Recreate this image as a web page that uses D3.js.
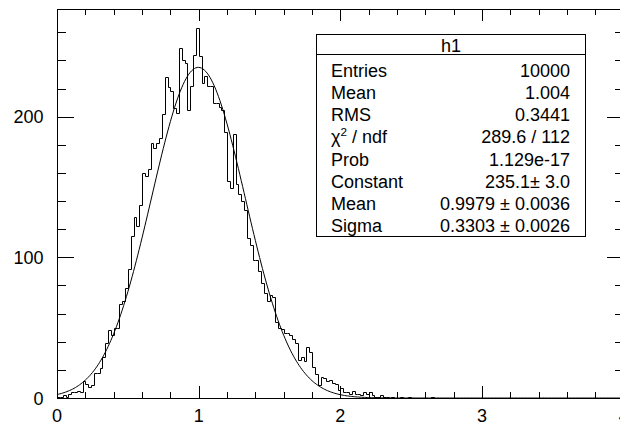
<!DOCTYPE html>
<html><head><meta charset="utf-8">
<script src="https://cdn.jsdelivr.net/npm/d3@7"></script>
<style>
body{margin:0;background:#fff}
svg{display:block}
text{font-family:"Liberation Sans",Arial,Helvetica,sans-serif;fill:#000}
</style>
</head><body>
<svg id="c" width="620" height="423"></svg>
<script>
// ---- data ----
const xRange = [0, 4];
const yRange = [0, 276.6];
const counts = [
  1,1,2,1,3,4,4,5,4,12,
  10,8,9,18,18,21,29,39,48,45,
  50,50,67,69,78,92,115,129,122,137,
  160,158,163,181,178,181,185,202,228,221,
  218,206,203,249,240,238,205,222,244,263,
  243,224,229,222,222,210,210,207,205,189,
  154,149,188,152,145,140,134,114,109,98,
  98,90,82,75,69,73,72,54,50,49,
  46,46,45,42,39,27,29,26,36,33,
  22,17,9,15,14,12,13,11,10,6,
  7,4,4,3,5,3,3,2,4,3,
  4,2,1,1,2,1,1,0,1,0,
  0,1,0,0,1,0,0,0,0,0,
  0,0,1,0,0,0,0,0,0,0,
  0,0,0,0,0,0,0,0,0,0,
  0,0,0,0,0,0,0,0,0,0,
  0,0,0,0,0,0,0,0,0,0,
  0,0,0,0,0,0,0,0,0,0,
  0,0,0,0,0,0,0,0,0,0,
  0,0,0,0,0,0,0,0,0,0
];
const xTickLabels = [0, 1, 2, 3, 4];
const yTickLabels = [0, 100, 200];
const fitConstant = 235.1, fitMean = 0.9979, fitSigma = 0.3303;
const statTitle = "h1";
const statNames = ["Entries","Mean","RMS","CHI2","Prob","Constant","Mean","Sigma"];
const statValues = ["10000","1.004","0.3441","289.6 / 112","1.129e-17","235.1\u00b1 3.0","0.9979 \u00b1 0.0036","0.3303 \u00b1 0.0026"];

// ---- layout ----
const L = 57, T = 9, R = 623.7, B = 398;
const svg = d3.select("#c");
const x = d3.scaleLinear().domain(xRange).range([L, R]);
const y = d3.scaleLinear().domain(yRange).range([B, T]);
const FS = 18;

svg.append("clipPath").attr("id","clip").append("rect")
  .attr("x", L).attr("y", T).attr("width", R - L).attr("height", B - T);

// histogram outline
const nb = counts.length;
const bw = (xRange[1] - xRange[0]) / nb;
const pts = [[x(xRange[0]), y(0)]];
counts.forEach((c, i) => {
  const lo = xRange[0] + i * bw, hi = lo + bw;
  pts.push([x(lo), y(c)], [x(hi), y(c)]);
});
pts.push([x(xRange[1]), y(0)]);
svg.append("path")
  .attr("clip-path","url(#clip)")
  .attr("d", d3.line()(pts.map(p => [Math.round(p[0]) + 0.5, Math.round(p[1]) + 0.5])))
  .attr("fill","none").attr("stroke","#000").attr("stroke-width",1);

// fit curve
const fx = d3.range(0, 401).map(i => xRange[0] + i * (xRange[1] - xRange[0]) / 400);
const gauss = v => fitConstant * Math.exp(-0.5 * Math.pow((v - fitMean) / fitSigma, 2));
svg.append("path")
  .attr("clip-path","url(#clip)")
  .attr("d", d3.line().x(v => x(v)).y(v => y(gauss(v)))(fx))
  .attr("fill","none").attr("stroke","#000").attr("stroke-width",1);

// frame
svg.append("rect").attr("x", L + 0.5).attr("y", T + 0.5)
  .attr("width", Math.round(R - L)).attr("height", B - T)
  .attr("fill","none").attr("stroke","#000").attr("stroke-width",1);

// ticks via axes
const xMaj = (B - T) * 0.03, xMin = xMaj / 2;
const yMaj = (R - L) * 0.03, yMin = yMaj / 2;
const xMinorVals = d3.range(0, 21).map(i => i * 0.2).filter(v => Math.abs(v - Math.round(v)) > 1e-6);
const yMinorVals = d3.range(0, 14).map(i => i * 20).filter(v => v % 100 !== 0 && v <= yRange[1]);

function tickAxis(gen, vals, size, tr) {
  const g = svg.append("g").attr("transform", tr)
    .call(gen.tickValues(vals).tickSize(size).tickFormat(""));
  g.select(".domain").remove();
  g.selectAll("line").attr("stroke","#000").attr("shape-rendering","crispEdges");
  return g;
}
// bottom (pointing up)
tickAxis(d3.axisTop(x), xTickLabels, xMaj, `translate(0,${B})`);
tickAxis(d3.axisTop(x), xMinorVals, xMin, `translate(0,${B})`);
// top (pointing down)
tickAxis(d3.axisBottom(x), xTickLabels, xMaj, `translate(0,${T})`);
tickAxis(d3.axisBottom(x), xMinorVals, xMin, `translate(0,${T})`);
// left (pointing right)
tickAxis(d3.axisRight(y), yTickLabels, yMaj, `translate(${L},0)`);
tickAxis(d3.axisRight(y), yMinorVals, yMin, `translate(${L},0)`);
// right (pointing left)
tickAxis(d3.axisLeft(y), yTickLabels, yMaj, `translate(${R},0)`);
tickAxis(d3.axisLeft(y), yMinorVals, yMin, `translate(${R},0)`);

// labels
svg.selectAll(".xl").data(xTickLabels).enter().append("text")
  .attr("x", d => x(d)).attr("y", 421.5).attr("text-anchor","middle")
  .attr("font-size", FS).text(d => d);
svg.selectAll(".yl").data(yTickLabels).enter().append("text")
  .attr("x", 43.5).attr("y", d => y(d) + 6.5).attr("text-anchor","end")
  .attr("font-size", FS).text(d => d);

// stats box
const bx0 = 316.5, bx1 = 585.5, by0 = 34.5, by1 = 236.5, hy = 54.5;
svg.append("rect").attr("x", bx0).attr("y", by0).attr("width", bx1 - bx0).attr("height", by1 - by0)
  .attr("fill","#fff").attr("stroke","#000").attr("stroke-width",1);
svg.append("line").attr("x1", bx0).attr("x2", bx1).attr("y1", hy).attr("y2", hy)
  .attr("stroke","#000").attr("stroke-width",1);
svg.append("text").attr("x", (bx0 + bx1) / 2).attr("y", 51.5).attr("text-anchor","middle")
  .attr("font-size", FS).text(statTitle);
const rowY = i => 77.3 + i * 22.06;
statNames.forEach((n, i) => {
  const t = svg.append("text").attr("x", 331).attr("y", rowY(i)).attr("font-size", FS);
  if (n === "CHI2") {
    t.append("tspan").text("\u03c7");
    t.append("tspan").attr("dy", -7).attr("font-size", FS * 0.65).text("2");
    t.append("tspan").attr("dy", 7).text(" / ndf");
  } else t.text(n);
});
statValues.forEach((v, i) => {
  svg.append("text").attr("x", 570).attr("y", rowY(i)).attr("text-anchor","end")
    .attr("font-size", FS).text(v);
});
</script>
</body></html>
